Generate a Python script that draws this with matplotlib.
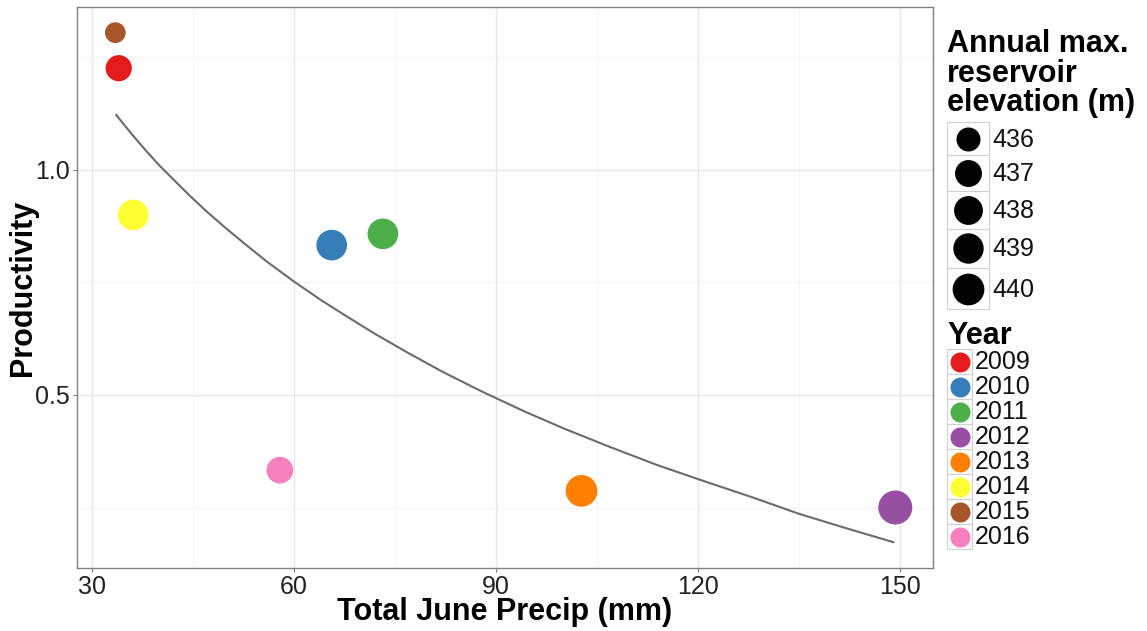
import numpy as np
import matplotlib.pyplot as plt
from matplotlib.patches import Rectangle

plt.rcParams['font.family'] = ['Liberation Sans', 'DejaVu Sans']

years = [2009, 2010, 2011, 2012, 2013, 2014, 2015, 2016]
precip = [33.97, 65.6, 73.2, 149.3, 102.7, 36.13, 33.46, 57.9]
productivity = [1.226, 0.833, 0.858, 0.250, 0.287, 0.900, 1.305, 0.333]
elevation = [436.7, 439.2, 439.2, 442.0, 440.0, 439.2, 435.6, 436.9]
colors = ['#E41A1C', '#377EB8', '#4DAF4A', '#984EA3',
          '#FF7F00', '#FFFF33', '#A65628', '#F781BF']

# fitted curve
fit_x = [33.6, 35.0, 36.5, 38.0, 40.0, 42.0, 44.5, 47.0, 50.0, 53.0,
         56.0, 60.0, 64.0, 68.0, 72.0, 77.0, 82.0, 88.0, 94.0, 100.0,
         107.0, 114.0, 121.0, 128.0, 135.0, 142.0, 149.0]
fit_y = [1.122, 1.096, 1.069, 1.043, 1.010, 0.980, 0.943, 0.908, 0.869, 0.832,
         0.796, 0.752, 0.711, 0.673, 0.636, 0.593, 0.552, 0.507, 0.465, 0.426,
         0.384, 0.344, 0.308, 0.273, 0.236, 0.204, 0.173]

elev_breaks = [436, 437, 438, 439, 440]

W, H, DPI = 1147, 631, 100
emin, emax = min(elevation), max(elevation)


def diam(e):
    # point diameter in px, area-style size scale
    f = np.clip((np.asarray(e, float) - emin) / (emax - emin), 0, 1)
    return 20.7 + 13.3 * np.sqrt(f)


def s_of(d):
    return (np.asarray(d) * 72.0 / DPI) ** 2


fig = plt.figure(figsize=(W / DPI, H / DPI), dpi=DPI)
ax = fig.add_axes([77 / W, 63 / H, 856 / W, 561 / H])

ax.set_xlim(27.77, 154.9)
ax.set_ylim(0.1156, 1.362)
ax.set_xticks([30, 60, 90, 120, 150])
ax.set_xticks([45, 75, 105, 135], minor=True)
ax.set_yticks([0.5, 1.0])
ax.set_yticklabels(['0.5', '1.0'])
ax.set_yticks([0.25, 0.75, 1.25], minor=True)
ax.grid(True, which='major', color='#e6e6e6', lw=1.0)
ax.grid(True, which='minor', color='#f3f3f3', lw=0.6)
ax.set_axisbelow(True)
for sp in ax.spines.values():
    sp.set_color('#808080')
    sp.set_linewidth(1.0)
ax.tick_params(which='major', length=3, width=0.8, color='#808080',
               labelsize=18, labelcolor='#222222', pad=2)
ax.tick_params(which='minor', length=0)

ax.scatter(precip, productivity, s=s_of(diam(elevation)), c=colors,
           linewidths=0, zorder=3)
ax.plot(fit_x, fit_y, color='#6b6b6b', lw=1.5, zorder=4)

ax.set_xlabel('Total June Precip (mm)', fontsize=22, fontweight='bold')
ax.set_ylabel('Productivity', fontsize=22, fontweight='bold')
ax.xaxis.set_label_coords(0.5, -0.052)
ax.yaxis.set_label_coords(-0.046, 0.5)

# legends drawn in pixel coordinates
lax = fig.add_axes([0, 0, 1, 1])
lax.set_xlim(0, W)
lax.set_ylim(H, 0)
lax.axis('off')

lx = 947
lax.text(lx, 29, 'Annual max.\nreservoir\nelevation (m)', fontsize=22,
         fontweight='bold', va='top', ha='left', linespacing=0.98)
kd = diam(elev_breaks)
kw = 42
ytop = 122
for b, d in zip(elev_breaks, kd):
    kh = max(32, d + 9)
    lax.add_patch(Rectangle((lx, ytop), kw, kh, fill=False, ec='#d0d0d0', lw=0.8))
    lax.scatter([lx + kw / 2], [ytop + kh / 2], s=s_of(d), c='black', linewidths=0)
    lax.text(lx + kw + 3, ytop + kh / 2 + 1, str(b), fontsize=18,
             va='center', ha='left', color='#111111')
    ytop += kh

lax.text(lx, 321, 'Year', fontsize=22, fontweight='bold', va='top', ha='left')
ytop = 349
for yr, c in zip(years, colors):
    lax.add_patch(Rectangle((lx, ytop), 25, 25, fill=False, ec='#d0d0d0', lw=0.8))
    lax.scatter([lx + 12.5], [ytop + 12.5], s=s_of(20), c=c, linewidths=0)
    lax.text(lx + 28, ytop + 13, str(yr), fontsize=18,
             va='center', ha='left', color='#111111')
    ytop += 25

fig.savefig('out.png', dpi=DPI)
